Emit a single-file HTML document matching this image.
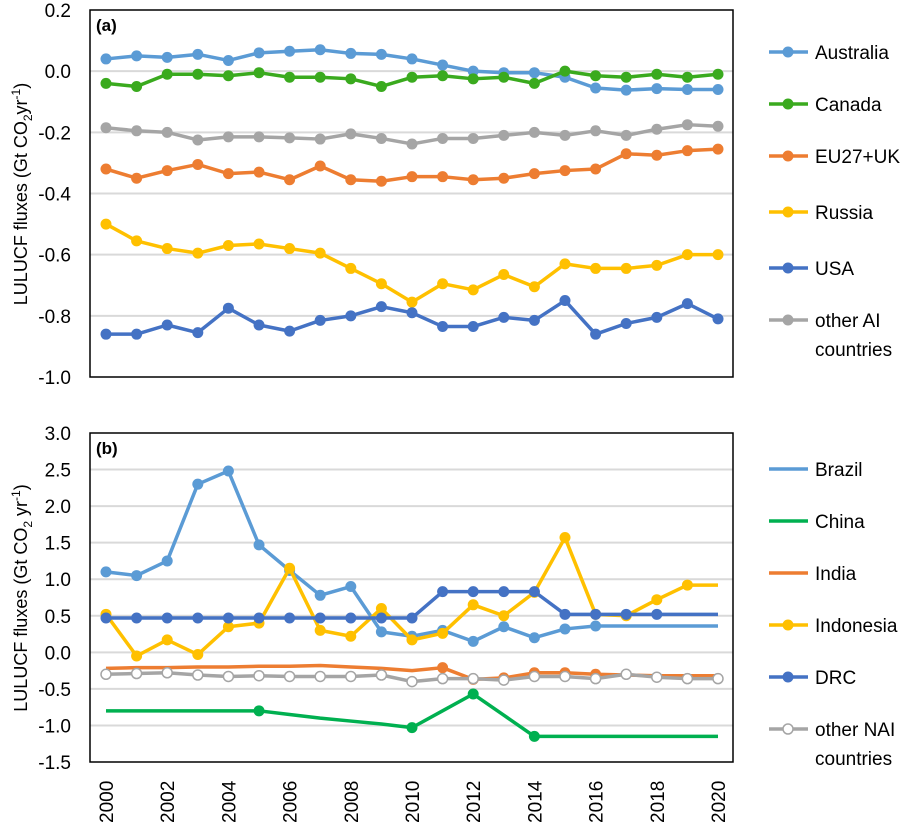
<!DOCTYPE html>
<html><head><meta charset="utf-8"><style>
body{margin:0;background:#fff}
svg{font-family:"Liberation Sans",sans-serif;display:block}
</style></head><body>
<svg id="s" width="919" height="827" xmlns="http://www.w3.org/2000/svg"></svg>
<script>
const S=document.getElementById('s');let h='';
const X0=106,XS=(718-106)/20,BL=90,BR=733;
function px(i){return X0+i*XS}
function panel(top,bot,ymax,ymin,ticks,fmt,series,label){
  const ys=v=>top+(ymax-v)/(ymax-ymin)*(bot-top);
  ticks.forEach(t=>{const y=ys(t);
    if(t!==ymax&&t!==ymin)h+=`<line x1="${BL}" x2="${BR}" y1="${y}" y2="${y}" stroke="#d9d9d9" stroke-width="2"/>`;
    h+=`<text x="71" y="${y+7}" font-size="19" text-anchor="end">${fmt(t)}</text>`;});
  h+=`<rect x="${BL}" y="${top}" width="${BR-BL}" height="${bot-top}" fill="none" stroke="#000" stroke-width="1.5"/>`;
  h+=`<text x="96" y="${top+21}" font-size="17" font-weight="bold">${label}</text>`;
  series.forEach(s=>{
    const pts=s.d.map((v,i)=>v==null?null:[px(i),ys(v)]);
    h+=`<polyline fill="none" stroke="${s.c}" stroke-width="3.5" stroke-linejoin="round" points="${pts.filter(p=>p).map(p=>p.join(',')).join(' ')}"/>`;
    pts.forEach((p,i)=>{if(!p)return;if(s.m&&!s.m.includes(i))return;
      if(s.open)h+=`<circle cx="${p[0]}" cy="${p[1]}" r="5" fill="#fff" stroke="#a5a5a5" stroke-width="1.5"/>`;
      else h+=`<circle cx="${p[0]}" cy="${p[1]}" r="5.5" fill="${s.c}"/>`;});
  });
}
const f1=t=>t.toFixed(1);
const rng=(a,b)=>{let r=[];for(let i=a;i<=b;i++)r.push(i);return r};
panel(10,377,0.2,-1.0,[0.2,0,-0.2,-0.4,-0.6,-0.8,-1.0],f1,[
 {c:'#a5a5a5',d:[-0.185,-0.195,-0.2,-0.225,-0.215,-0.215,-0.218,-0.222,-0.205,-0.22,-0.238,-0.22,-0.22,-0.21,-0.2,-0.21,-0.195,-0.21,-0.19,-0.175,-0.18]},
 {c:'#ed7d31',d:[-0.32,-0.35,-0.325,-0.305,-0.335,-0.33,-0.355,-0.31,-0.355,-0.36,-0.345,-0.345,-0.355,-0.35,-0.335,-0.325,-0.32,-0.27,-0.275,-0.26,-0.255]},
 {c:'#ffc000',d:[-0.5,-0.555,-0.58,-0.595,-0.57,-0.565,-0.58,-0.595,-0.645,-0.695,-0.755,-0.695,-0.715,-0.665,-0.705,-0.63,-0.645,-0.645,-0.635,-0.6,-0.6]},
 {c:'#4472c4',d:[-0.86,-0.86,-0.83,-0.855,-0.775,-0.83,-0.85,-0.815,-0.8,-0.77,-0.79,-0.835,-0.835,-0.805,-0.815,-0.75,-0.86,-0.825,-0.805,-0.76,-0.81]},
 {c:'#5b9bd5',d:[0.04,0.05,0.045,0.055,0.035,0.06,0.065,0.07,0.058,0.055,0.04,0.02,0.0,-0.005,-0.005,-0.02,-0.055,-0.062,-0.057,-0.06,-0.06]},
 {c:'#3aaa1e',d:[-0.04,-0.05,-0.01,-0.01,-0.015,-0.005,-0.02,-0.02,-0.025,-0.05,-0.02,-0.015,-0.025,-0.02,-0.04,0.0,-0.015,-0.02,-0.01,-0.02,-0.01]}
],'(a)');
panel(433,762,3.0,-1.5,[3,2.5,2,1.5,1,0.5,0,-0.5,-1,-1.5],f1,[
 {c:'#00b050',d:[-0.8,-0.8,-0.8,-0.8,-0.8,-0.8,-0.85,-0.9,-0.94,-0.98,-1.03,-0.8,-0.57,-0.86,-1.15,-1.15,-1.15,-1.15,-1.15,-1.15,-1.15],m:[5,10,12,14]},
 {c:'#ed7d31',d:[-0.22,-0.21,-0.21,-0.2,-0.2,-0.19,-0.19,-0.18,-0.2,-0.22,-0.25,-0.21,-0.37,-0.35,-0.28,-0.28,-0.3,-0.31,-0.32,-0.32,-0.32],m:[11,12,13,14,15,16]},
 {c:'#a5a5a5',open:1,d:[-0.3,-0.29,-0.28,-0.31,-0.33,-0.32,-0.33,-0.33,-0.33,-0.31,-0.4,-0.36,-0.36,-0.38,-0.33,-0.33,-0.36,-0.3,-0.34,-0.36,-0.36]},
 {c:'#5b9bd5',d:[1.1,1.05,1.25,2.3,2.48,1.47,1.12,0.78,0.9,0.28,0.22,0.3,0.15,0.35,0.2,0.32,0.36,0.36,0.36,0.36,0.36],m:rng(0,16)},
 {c:'#ffc000',d:[0.52,-0.05,0.17,-0.03,0.35,0.4,1.15,0.3,0.22,0.6,0.17,0.26,0.65,0.5,0.82,1.57,0.52,0.5,0.72,0.92,0.92],m:rng(0,19)},
 {c:'#4472c4',d:[0.47,0.47,0.47,0.47,0.47,0.47,0.47,0.47,0.47,0.47,0.47,0.83,0.83,0.83,0.83,0.52,0.52,0.52,0.52,0.52,0.52],m:rng(0,18)}
],'(b)');
for(let i=0;i<=20;i+=2){h+=`<text transform="translate(${px(i)+7},823) rotate(-90)" font-size="19">${2000+i}</text>`}
h+=`<text transform="translate(27,194) rotate(-90)" font-size="18" text-anchor="middle">LULUCF fluxes (Gt CO<tspan font-size="12" dy="5">2</tspan><tspan dy="-5">yr</tspan><tspan font-size="12" dy="-7">-1</tspan><tspan dy="7">)</tspan></text>`;
h+=`<text transform="translate(27,598) rotate(-90)" font-size="18" text-anchor="middle">LULUCF fluxes (Gt CO<tspan font-size="12" dy="5">2</tspan><tspan dy="-5"> yr</tspan><tspan font-size="12" dy="-7">-1</tspan><tspan dy="7">)</tspan></text>`;
function leg(y,c,t,t2,open,nomark){
  h+=`<line x1="769" x2="808" y1="${y}" y2="${y}" stroke="${c}" stroke-width="3.5"/>`;
  if(!nomark){ if(open)h+=`<circle cx="788" cy="${y}" r="5" fill="#fff" stroke="#a5a5a5" stroke-width="1.5"/>`;
    else h+=`<circle cx="788" cy="${y}" r="5.5" fill="${c}"/>`;}
  h+=`<text x="815" y="${y+7}" font-size="19">${t}</text>`;
  if(t2)h+=`<text x="815" y="${y+36}" font-size="19">${t2}</text>`;
}
leg(52,'#5b9bd5','Australia');leg(104,'#3aaa1e','Canada');leg(156,'#ed7d31','EU27+UK');
leg(212,'#ffc000','Russia');leg(268,'#4472c4','USA');leg(320,'#a5a5a5','other AI','countries');
leg(469,'#5b9bd5','Brazil',0,0,1);leg(521,'#00b050','China',0,0,1);leg(573,'#ed7d31','India',0,0,1);
leg(625,'#ffc000','Indonesia');leg(677,'#4472c4','DRC');leg(729,'#a5a5a5','other NAI','countries',1);
S.innerHTML=h;
</script>
</body></html>
